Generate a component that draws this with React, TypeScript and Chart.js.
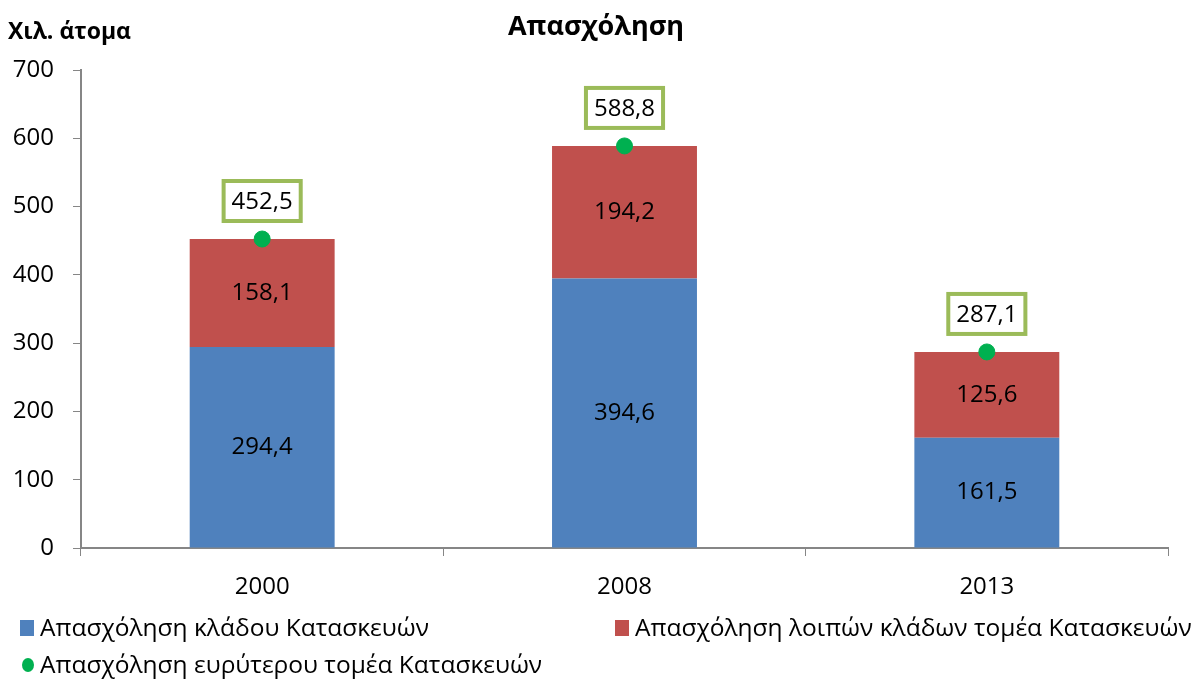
import React, { useEffect, useRef } from "react";
import { Chart, registerables } from "chart.js";

Chart.register(...registerables);

const categories = ["2000", "2008", "2013"];
const constructionBranch = [294.4, 394.6, 161.5];
const otherBranches = [158.1, 194.2, 125.6];
const widerSector = [452.5, 588.8, 287.1];
const yTicks = [0, 100, 200, 300, 400, 500, 600, 700];

const legendLabels = [
  "Απασχόληση κλάδου Κατασκευών",
  "Απασχόληση λοιπών κλάδων τομέα Κατασκευών",
  "Απασχόληση ευρύτερου τομέα Κατασκευών",
];

const BLUE = "#4F81BD";
const RED = "#C0504D";
const GREEN = "#00B050";
const BOX = "#9BBB59";
const AXIS = "#868686";
const FONT = "'Open Sans', 'Noto Sans', sans-serif";

const fmt = (v: number) => v.toFixed(1).replace(".", ",");

const labelPlugin = {
  id: "valueLabels",
  afterDatasetsDraw(chart: any) {
    const ctx = chart.ctx;
    ctx.save();
    ctx.font = `24px ${FONT}`;
    ctx.fillStyle = "#000";
    ctx.textAlign = "center";
    ctx.textBaseline = "middle";
    [0, 1].forEach((di) => {
      const meta = chart.getDatasetMeta(di);
      meta.data.forEach((el: any, i: number) => {
        const v = chart.data.datasets[di].data[i] as number;
        const cy = (el.y + el.base) / 2;
        ctx.fillText(fmt(v), el.x, cy);
      });
    });
    const meta = chart.getDatasetMeta(2);
    meta.data.forEach((el: any, i: number) => {
      const v = chart.data.datasets[2].data[i] as number;
      const txt = fmt(v);
      const w = ctx.measureText(txt).width + 16;
      const h = 40;
      const cy = el.y - 38;
      ctx.fillStyle = "#fff";
      ctx.fillRect(el.x - w / 2, cy - h / 2, w, h);
      ctx.strokeStyle = BOX;
      ctx.lineWidth = 4;
      ctx.strokeRect(el.x - w / 2, cy - h / 2, w, h);
      ctx.fillStyle = "#000";
      ctx.fillText(txt, el.x, cy + 1);
    });
    ctx.restore();
  },
};

const titlePlugin = {
  id: "titles",
  afterDraw(chart: any) {
    const ctx = chart.ctx;
    ctx.save();
    ctx.fillStyle = "#000";
    ctx.textBaseline = "middle";
    ctx.font = `bold 27px ${FONT}`;
    ctx.textAlign = "center";
    ctx.fillText("Απασχόληση", 596, 27);
    ctx.textAlign = "left";
    ctx.font = `bold 23px ${FONT}`;
    ctx.fillText("Χιλ. άτομα", 8, 32);
    ctx.restore();
  },
};

export default function App() {
  const ref = useRef<HTMLCanvasElement>(null);
  useEffect(() => {
    document.body.style.margin = "0";
    const chart = new Chart(ref.current!, {
      type: "bar",
      data: {
        labels: categories,
        datasets: [
          {
            label: legendLabels[0],
            data: constructionBranch,
            backgroundColor: BLUE,
            stack: "s",
            order: 2,
            barPercentage: 0.8,
            categoryPercentage: 0.5,
          },
          {
            label: legendLabels[1],
            data: otherBranches,
            backgroundColor: RED,
            stack: "s",
            order: 2,
            barPercentage: 0.8,
            categoryPercentage: 0.5,
          },
          {
            type: "line",
            label: legendLabels[2],
            data: widerSector,
            showLine: false,
            pointRadius: 8,
            pointHoverRadius: 8,
            pointBackgroundColor: GREEN,
            pointBorderColor: GREEN,
            stack: "total",
            order: 0,
          } as any,
        ],
      },
      options: {
        animation: false,
        responsive: false,
        layout: { padding: { top: 70, right: 32, left: 0, bottom: 82 } },
        plugins: {
          legend: { display: false },
          tooltip: { enabled: false },
          title: { display: false },
        },
        scales: {
          x: {
            stacked: true,
            grid: {
              offset: true,
              drawOnChartArea: false,
              drawTicks: true,
              tickLength: 8,
              color: AXIS,
            },
            border: { color: AXIS, width: 2 },
            ticks: { color: "#000", font: { family: FONT, size: 24 }, padding: 17 },
            afterFit: (s: any) => {
              s.height = 50;
            },
          },
          y: {
            stacked: true,
            min: 0,
            max: 700,
            afterBuildTicks: (s: any) => {
              s.ticks = yTicks.map((v) => ({ value: v }));
            },
            grid: {
              drawOnChartArea: false,
              drawTicks: true,
              tickLength: 8,
              color: AXIS,
            },
            border: { color: AXIS, width: 2 },
            ticks: { color: "#000", font: { family: FONT, size: 24 }, padding: 19 },
            afterFit: (s: any) => {
              s.width = 81;
            },
          },
        },
      },
      plugins: [labelPlugin, titlePlugin],
    });
    return () => chart.destroy();
  }, []);

  const legendText: React.CSSProperties = {
    position: "absolute",
    fontFamily: FONT,
    fontSize: 24.5,
    color: "#000",
    lineHeight: "28px",
    whiteSpace: "nowrap",
  };

  return (
    <div style={{ position: "relative", width: 1200, height: 680, background: "#fff" }}>
      <canvas ref={ref} width={1200} height={680} style={{ position: "absolute", left: 0, top: 0 }} />
      <div style={{ position: "absolute", left: 20, top: 620, width: 14, height: 16, background: BLUE }} />
      <div style={{ ...legendText, left: 40, top: 613 }}>{legendLabels[0]}</div>
      <div style={{ position: "absolute", left: 615, top: 620, width: 14, height: 16, background: RED }} />
      <div style={{ ...legendText, left: 635, top: 613 }}>{legendLabels[1]}</div>
      <div
        style={{
          position: "absolute",
          left: 22,
          top: 658,
          width: 12,
          height: 14,
          borderRadius: "50%",
          background: GREEN,
        }}
      />
      <div style={{ ...legendText, left: 40, top: 650 }}>{legendLabels[2]}</div>
    </div>
  );
}
